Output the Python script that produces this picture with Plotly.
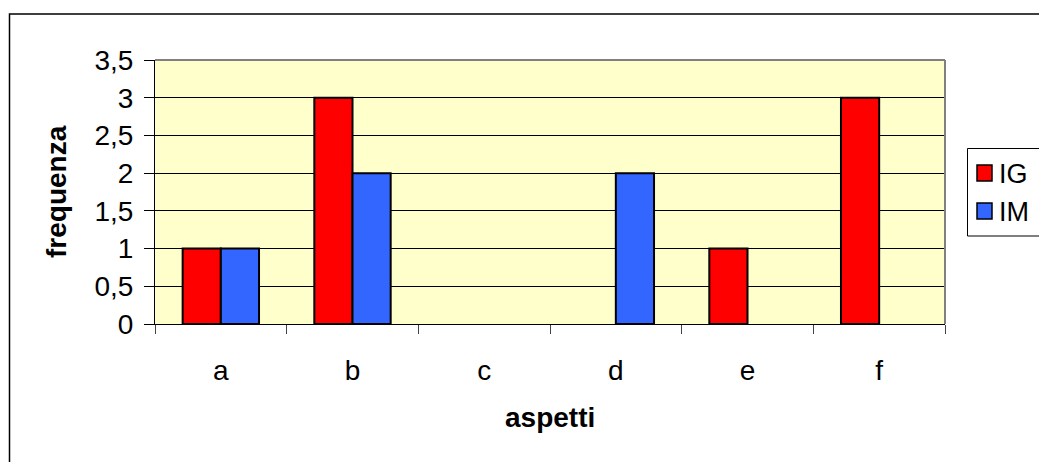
import plotly.graph_objects as go

categories = ["a", "b", "c", "d", "e", "f"]
ig_values = [1, 3, 0, 0, 1, 3]
im_values = [1, 2, 0, 2, 0, 0]
y_ticks = [0, 0.5, 1, 1.5, 2, 2.5, 3, 3.5]

series = [("IG", ig_values, "#FF0000"), ("IM", im_values, "#3366FF")]

FONT = "Liberation Sans, Arial, sans-serif"


def outline(values):
    # no outline on empty bars, so nothing shows on the baseline
    return [2 if v else 0 for v in values]


fig = go.Figure()
for name, values, color in series:
    fig.add_trace(go.Bar(
        name=name, x=categories, y=values,
        marker=dict(color=color, line=dict(color="#000000", width=outline(values))),
    ))

W, H = 1039, 462
L, R, T, B = 155, 945, 60, 324
pw, ph = R - L, B - T


def px(x):
    return (x - L) / pw


def py(y):
    return (B - y) / ph


shapes = [
    # outer chart border
    dict(type="rect", xref="paper", yref="paper",
         x0=px(9.5), x1=px(1045), y0=py(470), y1=py(14),
         line=dict(color="black", width=1.5), fillcolor="rgba(0,0,0,0)"),
    # grey frame on top and right of plot area
    dict(type="line", xref="paper", yref="paper",
         x0=0, x1=1, y0=1, y1=1, line=dict(color="#808080", width=2)),
    dict(type="line", xref="paper", yref="paper",
         x0=1, x1=1, y0=0, y1=1, line=dict(color="#808080", width=2)),
    # legend box
    dict(type="rect", xref="paper", yref="paper",
         x0=px(967.5), x1=px(1045), y0=py(236), y1=py(148.5),
         line=dict(color="black", width=1), fillcolor="white"),
]

annotations = [
    dict(text="<b>frequenza</b>", xref="paper", yref="paper",
         x=px(56), y=py(192), textangle=-90, showarrow=False,
         font=dict(family=FONT, size=28), xanchor="center", yanchor="middle"),
    dict(text="<b>aspetti</b>", xref="paper", yref="paper",
         x=px(550), y=py(417), showarrow=False,
         font=dict(family=FONT, size=28), xanchor="center", yanchor="middle"),
]

# legend entries: swatch + label
for i, (name, values, color) in enumerate(series):
    cy = 173 + i * 38
    shapes.append(dict(type="rect", xref="paper", yref="paper",
                       x0=px(977), x1=px(992), y0=py(cy + 8), y1=py(cy - 8),
                       line=dict(color="black", width=1.5), fillcolor=color))
    annotations.append(dict(text=name, xref="paper", yref="paper",
                            x=px(997), y=py(cy + 1), showarrow=False,
                            xanchor="left", yanchor="middle",
                            font=dict(family=FONT, size=27)))

fig.update_layout(
    width=W, height=H,
    margin=dict(l=L, r=W - R, t=T, b=H - B, pad=0, autoexpand=False),
    paper_bgcolor="white",
    plot_bgcolor="#FFFFCC",
    barmode="group",
    bargap=0.42,
    bargroupgap=0,
    separators=",.",
    font=dict(family=FONT, size=28, color="black"),
    showlegend=False,
    xaxis=dict(
        type="category",
        tickson="boundaries",
        ticks="outside", ticklen=9, tickcolor="#444444", tickwidth=1,
        showline=True, linecolor="black", linewidth=1,
        showgrid=False,
        ticklabelstandoff=21,
        tickfont=dict(family=FONT, size=28),
        fixedrange=True,
    ),
    yaxis=dict(
        range=[0, 3.5],
        tickvals=y_ticks,
        ticks="outside", ticklen=10, tickcolor="black", tickwidth=1,
        showline=True, linecolor="black", linewidth=1,
        showgrid=True, gridcolor="black", gridwidth=1,
        ticklabelstandoff=5,
        tickfont=dict(family=FONT, size=28),
        zeroline=False,
        fixedrange=True,
    ),
    shapes=shapes,
    annotations=annotations,
)

fig.write_html("out.html")
